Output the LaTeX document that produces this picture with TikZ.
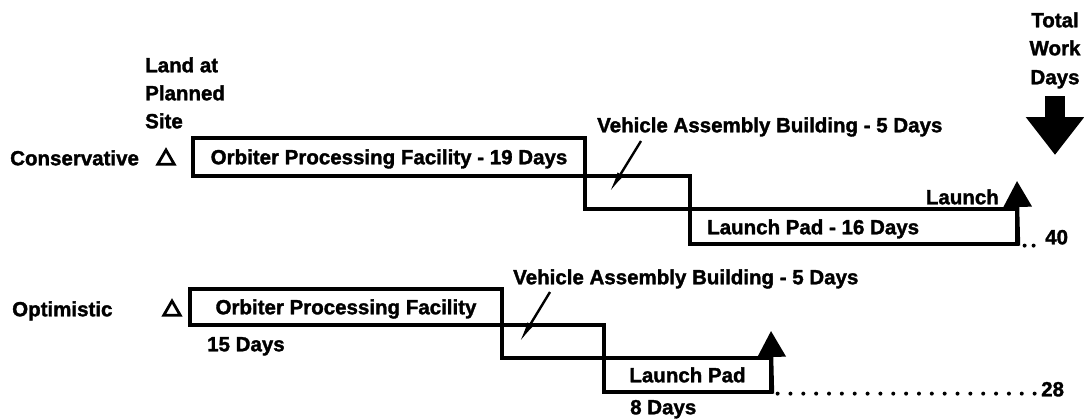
\documentclass[tikz,border=0pt]{standalone}
\usepackage{fontspec}
\setmainfont{Liberation Sans}[BoldFeatures={FakeBold=1.6}]
\usetikzlibrary{arrows.meta,shapes.geometric}
\begin{document}
\begin{tikzpicture}[x=1pt,y=-1pt,
  lbl/.style={font=\bfseries\fontsize{20.5}{24}\selectfont, inner sep=0pt, text height=14.5pt, text depth=0pt},
  bx/.style={draw, line width=3.2pt, inner sep=0pt, font=\bfseries\fontsize{20.5}{24}\selectfont, text height=14.5pt, text depth=0pt},
  ptr/.style={line width=2.4pt, -{Latex[length=22pt,width=7pt]}},
  launch/.style={line width=3.2pt, -{Triangle[length=26pt,width=28pt]}},
  dotline/.style={line width=4pt, line cap=round, dash pattern=on 0pt off 12.85pt},
  delta/.style={regular polygon, regular polygon sides=3, draw, line width=2.8pt, inner sep=0pt, minimum size=19pt}
]
\useasboundingbox (0,0) rectangle (1084,418);

% header texts
\node[lbl, anchor=west] (land1) at (145,65) {Land at};
\node[lbl, anchor=west] (land2) at (145,93) {Planned};
\node[lbl, anchor=west] (land3) at (145,121) {Site};
\node[lbl] (tw1) at (1055,20) {Total};
\node[lbl] (tw2) at (1055,48) {Work};
\node[lbl] (tw3) at (1055,77) {Days};
\coordinate (twa) at (1055,96);
\coordinate (twb) at (1055,155);
\draw[line width=20pt, -{Triangle[length=38pt,width=56pt]}] (twa) -- (twb);

% Conservative
\node[lbl, anchor=west] (cons) at (10,158) {Conservative};
\node[delta] (d1) at (166,159.5) {};
\node[bx, minimum width=392pt, minimum height=38pt] (opf1) at (389,157) {Orbiter Processing Facility - 19 Days};
\node[bx, minimum width=105pt, minimum height=33pt] (vab1) at (637.5,192.5) {};
\node[bx, minimum width=327pt, minimum height=35pt] (lp1) at (853.5,226.5) {};
\node[lbl, anchor=west] (lp1t) at (707,227) {Launch Pad - 16 Days};
\node[lbl, anchor=west] (vabl1) at (597,125) {Vehicle Assembly Building - 5 Days};
\coordinate (p1s) at (641,141);
\coordinate (p1e) at (609,193);
\draw[ptr] (p1s) -- (p1e);
\coordinate (la1) at (1017,181);
\draw[launch] (lp1.south east) -- (la1);
\node[lbl, anchor=east] (launch1) at (999,197) {Launch};
\node[lbl, anchor=west] (n40) at (1045,237) {40};
\draw[dotline, dash pattern=on 0pt off 9pt] ([xshift=6pt]lp1.south east) -- ([xshift=-10pt]n40.west |- lp1.south east);

% Optimistic
\node[lbl, anchor=west] (opt) at (12,309) {Optimistic};
\node[delta] (d2) at (172,310.5) {};
\node[bx, minimum width=312pt, minimum height=36pt] (opf2) at (346,307) {Orbiter Processing Facility};
\node[lbl, anchor=west] (d15) at (207,344) {15 Days};
\node[bx, minimum width=102pt, minimum height=33pt] (vab2) at (553,341.5) {};
\node[bx, minimum width=167pt, minimum height=34pt] (lp2) at (687.5,375) {Launch Pad};
\node[lbl, anchor=west] (d8) at (630,407) {8 Days};
\node[lbl, anchor=west] (vabl2) at (513,277) {Vehicle Assembly Building - 5 Days};
\coordinate (p2s) at (550,292);
\coordinate (p2e) at (519,343);
\draw[ptr] (p2s) -- (p2e);
\coordinate (la2) at (771,331);
\draw[launch] (lp2.south east) -- (la2);
\node[lbl, anchor=west] (n28) at (1041,389) {28};
\draw[dotline] ([xshift=5pt]lp2.south east) -- ([xshift=-6pt]n28.west |- lp2.south east);
\end{tikzpicture}
\end{document}
